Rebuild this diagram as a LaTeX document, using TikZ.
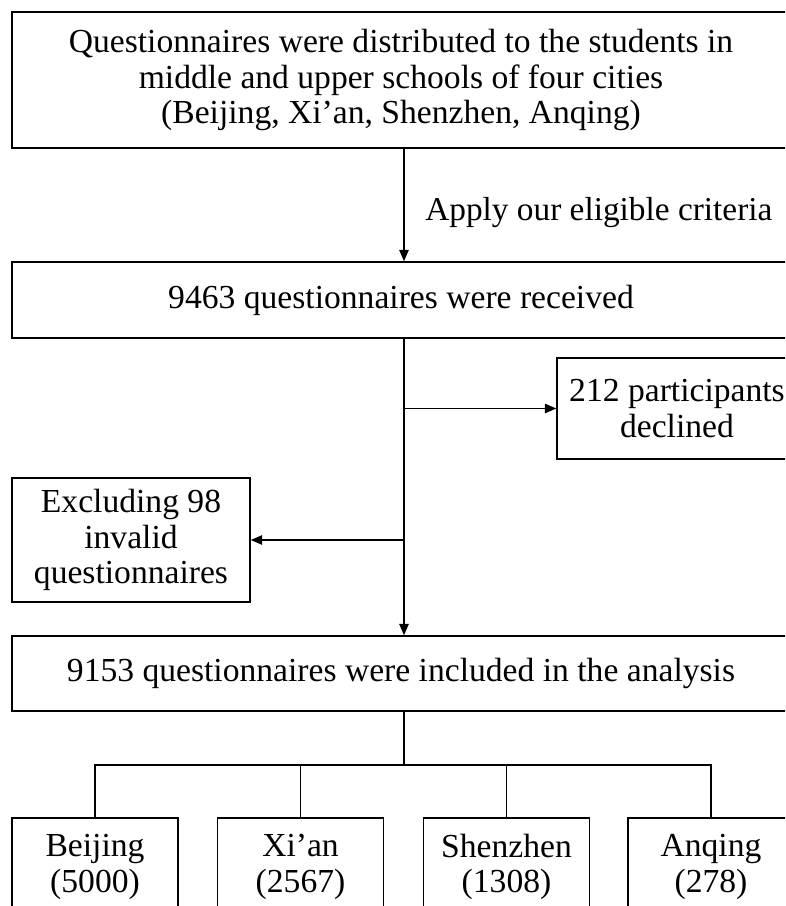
\documentclass[tikz,border=0pt]{standalone}
\usepackage{fontspec}
\setmainfont{Liberation Serif}
\usetikzlibrary{arrows.meta}
\tikzset{
  box/.style={draw, line width=1.1pt, align=center, inner sep=0pt, font=\fontsize{25.2}{26.5}\selectfont},
  conn/.style={line width=1.1pt},
  arr/.style={conn, -{Triangle[length=8.5pt,width=7pt]}},
  lbl/.style={font=\fontsize{25}{26.5}\selectfont, anchor=west, inner sep=0pt}
}
\begin{document}
\begin{tikzpicture}[x=0.75pt,y=-0.75pt]
\useasboundingbox (0,0) rectangle (785,906);
\clip (0,0) rectangle (785,906);
\coordinate (spine) at (404,0);
\node[box, minimum width=778*0.75pt, minimum height=136*0.75pt] (q) at (401,80)
  {Questionnaires were distributed to the students in\\middle and upper schools of four cities\\(Beijing, Xi’an, Shenzhen, Anqing)};
\node[lbl] (apply) at (425,213) {Apply our eligible criteria};
\node[box, minimum width=778*0.75pt, minimum height=76*0.75pt] (r) at (401,300)
  {9463 questionnaires were received};
\node[box, minimum width=240*0.75pt, minimum height=101*0.75pt] (d) at (677,408.5)
  {212 participants\\declined};
\node[box, minimum width=238*0.75pt, minimum height=124*0.75pt] (x) at (131,540)
  {Excluding 98\\invalid\\questionnaires};
\node[box, minimum width=778*0.75pt, minimum height=75*0.75pt] (a) at (401,673.5)
  {9153 questionnaires were included in the analysis};
\node[box, minimum width=166*0.75pt, minimum height=98*0.75pt] (b1) at (95,867) {Beijing\\(5000)};
\node[box, minimum width=166*0.75pt, minimum height=98*0.75pt] (b2) at (300.5,867) {Xi’an\\(2567)};
\node[box, minimum width=166*0.75pt, minimum height=98*0.75pt] (b3) at (506.5,867) {Shenzhen\\(1308)};
\node[box, minimum width=166*0.75pt, minimum height=98*0.75pt] (b4) at (711,867) {Anqing\\(278)};
\draw[arr] (q.south -| spine) -- (r.north -| spine);
\draw[arr] (r.south -| spine) -- (a.north -| spine);
\draw[arr] (d.west -| spine) -- (d.west);
\draw[arr] (x.east -| spine) -- (x.east);
\coordinate (hub) at (404,765);
\draw[conn] (a.south -| spine) -- (hub);
\draw[conn] (b1.north) -- (b1.north |- hub) -- (b4.north |- hub) -- (b4.north);
\draw[conn] (b2.north) -- (b2.north |- hub);
\draw[conn] (b3.north) -- (b3.north |- hub);
\end{tikzpicture}
\end{document}
